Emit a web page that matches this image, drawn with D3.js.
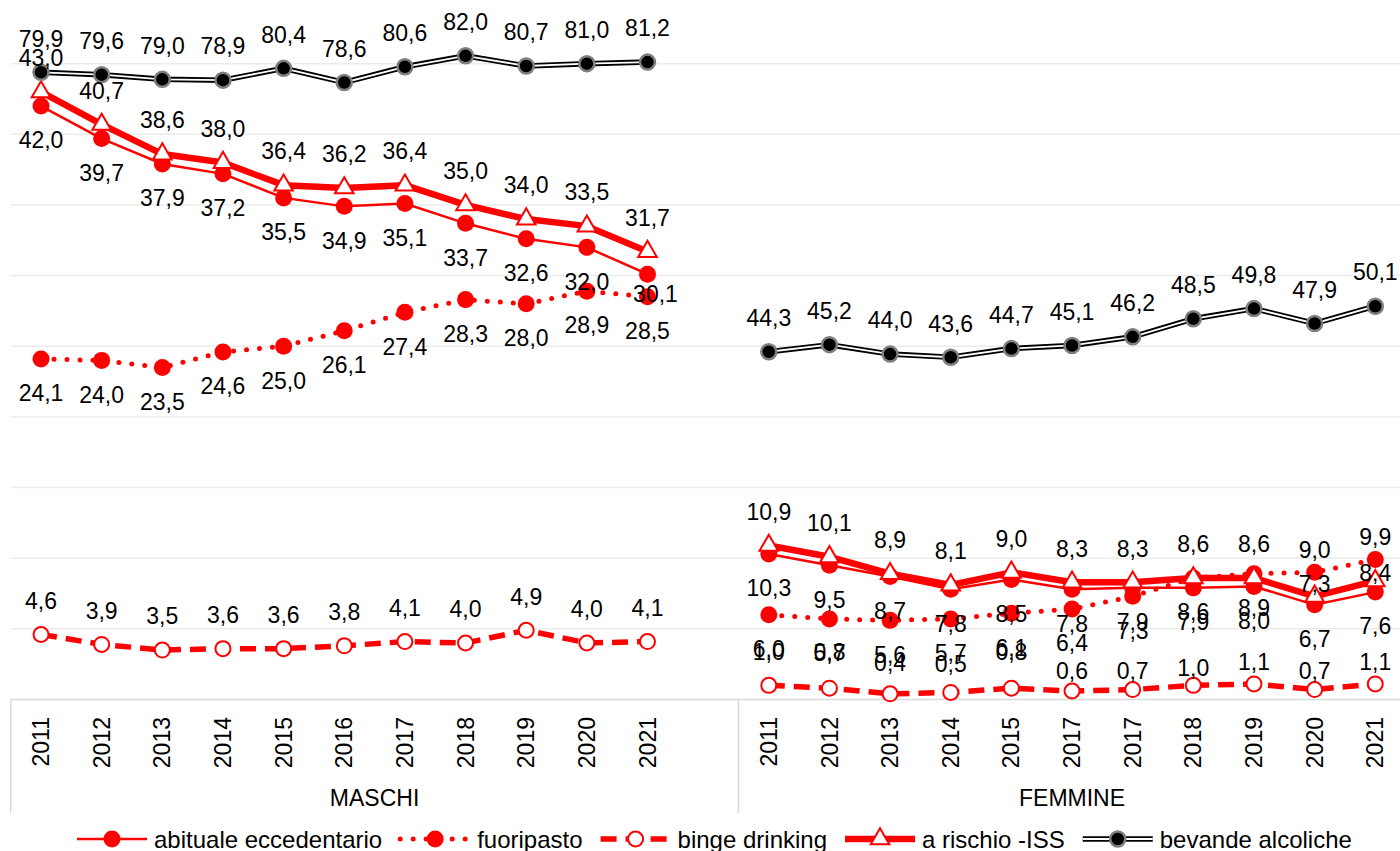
<!DOCTYPE html>
<html>
<head>
<meta charset="utf-8">
<script src="https://cdn.jsdelivr.net/npm/d3@7"></script>
<style>
  html, body { margin: 0; padding: 0; background: #fff; }
  svg { display: block; font-family: "Liberation Sans", Arial, sans-serif; }
</style>
</head>
<body>
<svg id="chart" width="1400" height="851"></svg>
<script>
/* ---------- data ---------- */
const groups = ['MASCHI', 'FEMMINE'];
const yearsM = ['2011', '2012', '2013', '2014', '2015', '2016', '2017', '2018', '2019', '2020', '2021'];
const yearsF = ['2011', '2012', '2013', '2014', '2015', '2017', '2017', '2018', '2019', '2020', '2021'];

const abitualeM   = [42.0, 39.7, 37.9, 37.2, 35.5, 34.9, 35.1, 33.7, 32.6, 32.0, 30.1];
const abitualeF   = [10.3, 9.5, 8.7, 7.8, 8.5, 7.8, 7.9, 7.9, 8.0, 6.7, 7.6];
const fuoripastoM = [24.1, 24.0, 23.5, 24.6, 25.0, 26.1, 27.4, 28.3, 28.0, 28.9, 28.5];
const fuoripastoF = [6.0, 5.7, 5.6, 5.7, 6.1, 6.4, 7.3, 8.6, 8.9, 9.0, 9.9];
const bingeM      = [4.6, 3.9, 3.5, 3.6, 3.6, 3.8, 4.1, 4.0, 4.9, 4.0, 4.1];
const bingeF      = [1.0, 0.8, 0.4, 0.5, 0.8, 0.6, 0.7, 1.0, 1.1, 0.7, 1.1];
const rischioM    = [43.0, 40.7, 38.6, 38.0, 36.4, 36.2, 36.4, 35.0, 34.0, 33.5, 31.7];
const rischioF    = [10.9, 10.1, 8.9, 8.1, 9.0, 8.3, 8.3, 8.6, 8.6, 7.3, 8.4];
const bevandeM    = [79.9, 79.6, 79.0, 78.9, 80.4, 78.6, 80.6, 82.0, 80.7, 81.0, 81.2];
const bevandeF    = [44.3, 45.2, 44.0, 43.6, 44.7, 45.1, 46.2, 48.5, 49.8, 47.9, 50.1];

/* ---------- setup ---------- */
const RED = '#ff0000';
const FONT = 23;
const svg = d3.select('#chart');

const plotL = 10.7, plotR = 1405.6, plotT = -7, plotB = 699.5;

// male block + an empty slot, then female block
const cats = [...yearsM.map((d, i) => 'M' + i), 'gap', ...yearsF.map((d, i) => 'F' + i)];
const x = d3.scaleBand().domain(cats).range([plotL, plotR]);
const cx = (g, i) => x(g + i) + x.bandwidth() / 2;

const yL = d3.scaleLinear().domain([0, 50]).range([plotB, plotT]);
const yR = d3.scaleLinear().domain([0, 90]).range([plotB, plotT]);

const series = [
  { key: 'abituale',   name: 'abituale eccedentario', M: abitualeM,   F: abitualeF,   y: yL, pos: 1 },
  { key: 'fuoripasto', name: 'fuoripasto',            M: fuoripastoM, F: fuoripastoF, y: yL, pos: 1 },
  { key: 'binge',      name: 'binge drinking',        M: bingeM,      F: bingeF,      y: yL, pos: -1 },
  { key: 'rischio',    name: 'a rischio -ISS',        M: rischioM,    F: rischioF,    y: yL, pos: -1 },
  { key: 'bevande',    name: 'bevande alcoliche',     M: bevandeM,    F: bevandeF,    y: yR, pos: -1 }
];

// labels that were moved by hand in the original
const labelShift = {
  'abituale|M|10': [8, 20],
  'fuoripasto|F|9': [0, -23], 'fuoripasto|F|10': [0, -23],
  'rischio|F|9': [0, -13], 'rischio|F|10': [0, -8],
  'binge|F|1': [0, -36], 'binge|F|2': [0, -31], 'binge|F|3': [0, -29], 'binge|F|4': [0, -36],
  'binge|F|5': [0, -20], 'binge|F|6': [0, -19], 'binge|F|7': [0, -18],
  'binge|F|8': [0, -22], 'binge|F|9': [0, -19], 'binge|F|10': [0, -22]
};

const fmtIt = v => d3.format('.1f')(v).replace('.', ',');

/* ---------- grid + axis frame ---------- */
svg.append('g').selectAll('line')
  .data(yL.ticks(10).filter(t => t > 0))
  .enter().append('line')
    .attr('x1', plotL).attr('x2', 1400)
    .attr('y1', d => yL(d)).attr('y2', d => yL(d))
    .attr('stroke', '#ececec').attr('stroke-width', 1.5);

svg.append('line')
  .attr('x1', plotL).attr('x2', 1400).attr('y1', plotB).attr('y2', plotB)
  .attr('stroke', '#d9d9d9').attr('stroke-width', 1.5);

const sepX = [plotL, x('gap') + x.bandwidth(), plotR];
svg.append('g').selectAll('line')
  .data(sepX).enter().append('line')
    .attr('x1', d => d).attr('x2', d => d)
    .attr('y1', plotB).attr('y2', 813)
    .attr('stroke', '#d9d9d9').attr('stroke-width', 1.5);

// year ticks
[['M', yearsM], ['F', yearsF]].forEach(([g, yrs]) => {
  svg.append('g').selectAll('text')
    .data(yrs).enter().append('text')
      .attr('transform', (d, i) => `translate(${cx(g, i)},717) rotate(-90)`)
      .attr('text-anchor', 'end')
      .attr('dy', '0.35em')
      .attr('font-size', FONT)
      .attr('fill', '#000')
      .text(d => d);
});

// group labels
svg.append('g').selectAll('text')
  .data(groups).enter().append('text')
    .attr('x', (d, i) => (sepX[i] + sepX[i + 1]) / 2)
    .attr('y', 806)
    .attr('text-anchor', 'middle')
    .attr('font-size', FONT)
    .text(d => d);

/* ---------- series drawing ---------- */
function drawLine(g, pts, key) {
  const line = d3.line().x(d => d[0]).y(d => d[1]);
  if (key === 'abituale') {
    g.append('path').attr('d', line(pts)).attr('fill', 'none')
      .attr('stroke', RED).attr('stroke-width', 2.5);
  } else if (key === 'fuoripasto') {
    g.append('path').attr('d', line(pts)).attr('fill', 'none')
      .attr('stroke', RED).attr('stroke-width', 5)
      .attr('stroke-linecap', 'round').attr('stroke-dasharray', '0 13');
  } else if (key === 'binge') {
    g.append('path').attr('d', line(pts)).attr('fill', 'none')
      .attr('stroke', RED).attr('stroke-width', 5.5)
      .attr('stroke-dasharray', '16 9');
  } else if (key === 'rischio') {
    g.append('path').attr('d', line(pts)).attr('fill', 'none')
      .attr('stroke', RED).attr('stroke-width', 6.5).attr('stroke-linejoin', 'round');
  } else {
    g.append('path').attr('d', line(pts)).attr('fill', 'none')
      .attr('stroke', '#000').attr('stroke-width', 5.5);
    g.append('path').attr('d', line(pts)).attr('fill', 'none')
      .attr('stroke', '#fff').attr('stroke-width', 1.8);
  }
}

function drawMarker(g, px, py, key) {
  if (key === 'abituale' || key === 'fuoripasto') {
    g.append('circle').attr('cx', px).attr('cy', py).attr('r', 8.5).attr('fill', RED);
  } else if (key === 'binge') {
    g.append('circle').attr('cx', px).attr('cy', py).attr('r', 7.5)
      .attr('fill', '#fff').attr('stroke', RED).attr('stroke-width', 2);
  } else if (key === 'rischio') {
    g.append('path')
      .attr('d', d3.symbol(d3.symbolTriangle).size(150)())
      .attr('transform', `translate(${px},${py})`)
      .attr('fill', '#fff').attr('stroke', RED).attr('stroke-width', 2);
  } else {
    g.append('circle').attr('cx', px).attr('cy', py).attr('r', 7.5)
      .attr('fill', '#000').attr('stroke', '#7f7f7f').attr('stroke-width', 2.5);
  }
}

const plot = svg.append('g');
series.forEach(s => {
  const g = plot.append('g');
  ['M', 'F'].forEach(grp => {
    const pts = s[grp].map((v, i) => [cx(grp, i), s.y(v)]);
    drawLine(g, pts, s.key);
    pts.forEach(p => drawMarker(g, p[0], p[1], s.key));
  });
});

// data labels on top of everything
const labels = svg.append('g').attr('font-size', FONT).attr('text-anchor', 'middle');
series.forEach(s => {
  ['M', 'F'].forEach(grp => {
    s[grp].forEach((v, i) => {
      const shift = labelShift[`${s.key}|${grp}|${i}`] || [0, 34 * s.pos];
      labels.append('text')
        .attr('x', cx(grp, i) + shift[0])
        .attr('y', s.y(v) + shift[1])
        .attr('dy', '0.36em')
        .attr('fill', '#000')
        .text(fmtIt(v));
    });
  });
});

/* ---------- legend ---------- */
const legend = svg.append('g').attr('transform', 'translate(77,839)');
let lx = 0;
series.forEach(s => {
  const item = legend.append('g').attr('transform', `translate(${lx},0)`);
  drawLine(item, [[0, 0], [70, 0]], s.key);
  drawMarker(item, 35, 0, s.key);
  const t = item.append('text')
    .attr('x', 77).attr('dy', '0.36em')
    .attr('font-size', 24)
    .text(s.name);
  lx += 77 + t.node().getComputedTextLength() + 18;
});
</script>
</body>
</html>
